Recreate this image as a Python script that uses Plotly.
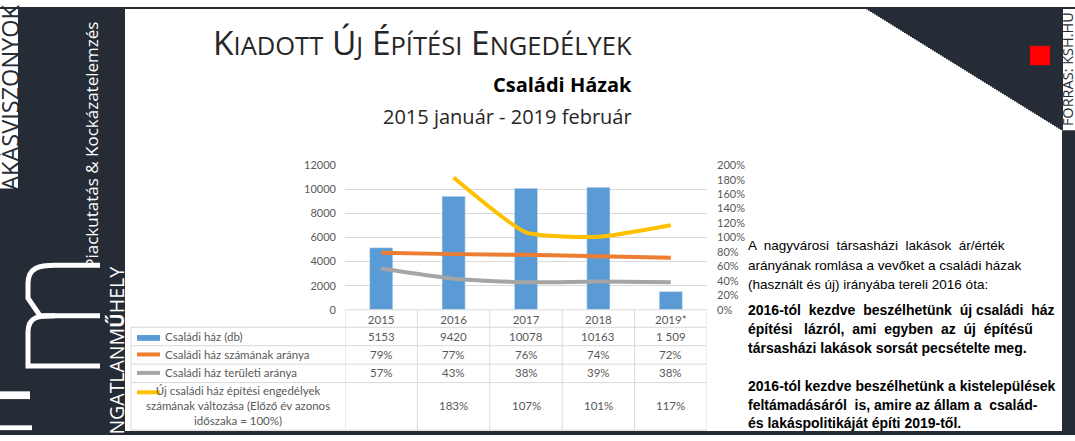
import plotly.graph_objects as go

W, H = 1075, 441
DARK = "#262c36"
GRAY_TXT = "#595959"
GRID = "#d9d9d9"

years = ["2015", "2016", "2017", "2018", "2019*"]
csaladi_haz_db = [5153, 9420, 10078, 10163, 1509]
db_labels = ["5153", "9420", "10078", "10163", "1 509"]
szamanak_aranya = [0.79, 0.77, 0.76, 0.74, 0.72]
teruleti_aranya = [0.57, 0.43, 0.38, 0.39, 0.38]
valtozas = [None, 1.83, 1.07, 1.01, 1.17]

row_names = [
    "Családi ház (db)",
    "Családi ház számának aránya",
    "Családi ház területi aránya",
    "Új családi ház építési engedélyek<br>számának változása (Előző év azonos<br>időszaka = 100%)",
]

text_normal = [
    "A  nagyvárosi  társasházi  lakások  ár/érték",
    "arányának romlása a vevőket a családi házak",
    "(használt és új) irányába tereli 2016 óta:",
]
text_bold = [
    "2016-tól  kezdve  beszélhetünk  új családi  ház",
    "építési   lázról,  ami  egyben  az  új  építésű",
    "társasházi lakások sorsát pecsételte meg.",
    "",
    "2016-tól kezdve beszélhetünk a kistelepülések",
    "feltámadásáról  is, amire az állam a  család-",
    "és lakáspolitikáját építi 2019-től.",
]


def px(x):
    return x / W


def py(y):
    return 1 - y / H


def rect(x0, y0, x1, y1, color, layer="below"):
    return dict(type="rect", xref="paper", yref="paper", x0=px(x0), x1=px(x1),
                y0=py(y1), y1=py(y0), fillcolor=color, line_width=0, layer=layer)


def hline(x0, x1, y, color=GRID, width=1):
    return dict(type="line", xref="paper", yref="paper", x0=px(x0), x1=px(x1),
                y0=py(y), y1=py(y), line=dict(color=color, width=width))


def path(pts, color, width):
    d = ""
    for cmd, coords in pts:
        d += cmd + " " + " ".join(f"{px(coords[i]):.5f},{py(coords[i + 1]):.5f}"
                                  for i in range(0, len(coords), 2)) + " "
    return dict(type="path", xref="paper", yref="paper", path=d.strip(),
                line=dict(color=color, width=width), layer="above")


fig = go.Figure()
fig.add_trace(go.Bar(x=years, y=csaladi_haz_db, marker_color="#5b9bd5", width=0.32))
fig.add_trace(go.Scatter(x=years, y=szamanak_aranya, yaxis="y2", mode="lines",
                         line=dict(color="#ed7d31", width=4, shape="spline", smoothing=0.6)))
fig.add_trace(go.Scatter(x=years, y=teruleti_aranya, yaxis="y2", mode="lines",
                         line=dict(color="#a5a5a5", width=4, shape="spline", smoothing=0.6)))
fig.add_trace(go.Scatter(x=years, y=valtozas, yaxis="y2", mode="lines",
                         line=dict(color="#ffc000", width=4, shape="spline", smoothing=0.5)))

shapes = [
    rect(0, 0, 125, 441, DARK),
    rect(0, 0, 18, 187, "white"),
    rect(0, 0, W, 2, DARK),
    rect(0, 437, W, 441, DARK),
    rect(1062, 127, W, 441, DARK),
    # logo
    rect(0, 396, 30, 404, "white"),
    rect(0, 431, 32, 436, "white"),
    path([("M", (100, 370)), ("L", (28, 370)), ("L", (28, 335)),
          ("C", (28, 318, 40, 318, 55, 318)), ("L", (100, 318))], "white", 5),
    path([("M", (55, 318)), ("L", (40, 318)), ("L", (28, 300)), ("L", (28, 285)),
          ("C", (28, 268, 40, 266, 55, 266)), ("L", (100, 266))], "white", 5),
]
# top-right corner triangle from vertical columns
for x in range(864, 1061, 2):
    shapes.append(rect(x, 0, x + 3, (x + 2 - 864) * 126 / 197, DARK, "below"))
# check mark inside the triangle
shapes.append(rect(1030, 40, 1050, 60, "red", "above"))

# table grid
for y in [330, 349, 368, 387, 436]:
    shapes.append(hline(131, 707, y))
shapes.append(hline(345, 707, 312))
shapes.append(dict(type="line", xref="paper", yref="paper", x0=px(131), x1=px(131),
                   y0=py(436), y1=py(330), line=dict(color=GRID, width=1)))
for i in range(len(years) + 1):
    shapes.append(dict(type="line", xref="x", yref="paper", x0=i - 0.5, x1=i - 0.5,
                       y0=py(436), y1=py(312), line=dict(color=GRID, width=1)))

# legend swatches
shapes.append(rect(137, 338, 160, 344, "#5b9bd5", "above"))
for y, c in [(358, "#ed7d31"), (377, "#a5a5a5"), (397, "#ffc000")]:
    shapes.append(hline(137, 160, y, c, 4))

ann = []
tf = dict(family="Lato, sans-serif", size=11.5, color=GRAY_TXT)
row_y = [340, 358, 377, 411]
for name, y in zip(row_names[:3], row_y[:3]):
    ann.append(dict(text=name, x=px(163), y=py(y), xanchor="left", yanchor="middle", font=tf))
ann.append(dict(text=row_names[3], x=px(238), y=py(411), xanchor="center", yanchor="middle",
                align="center", font=tf))
rows = [
    db_labels,
    [f"{round(v * 100)}%" for v in szamanak_aranya],
    [f"{round(v * 100)}%" for v in teruleti_aranya],
    ["" if v is None else f"{round(v * 100)}%" for v in valtozas],
]
for vals, y in zip(rows, row_y):
    for i, v in enumerate(vals):
        if v:
            ann.append(dict(text=v, x=i, xref="x", y=py(y), xanchor="center",
                            yanchor="middle", font=tf))

# titles
sc = '<span style="font-size:25.5px">{}</span>'
title = ("K" + sc.format("IADOTT") + " Ú" + sc.format("J") + " É" + sc.format("PÍTÉSI")
         + " E" + sc.format("NGEDÉLYEK"))
ann.append(dict(text=title, x=px(634), y=py(36), xanchor="right", yanchor="middle",
                font=dict(family="Open Sans", size=33.5, color="#262626")))
ann.append(dict(text="<b>Családi Házak</b>", x=px(634), y=py(80), xanchor="right",
                yanchor="middle", font=dict(family="Open Sans", size=20, color="black")))
ann.append(dict(text="2015 január - 2019 február", x=px(634), y=py(113), xanchor="right",
                yanchor="middle", font=dict(family="Open Sans", size=20, color="#262626")))

# side texts
pf = dict(family="Liberation Sans", size=13.5, color="black")
bf = dict(family="Liberation Sans", size=14, color="black")
for t, y in zip(text_normal, [246, 266, 286]):
    ann.append(dict(text=t, x=px(746), y=py(y), xanchor="left", yanchor="middle", font=pf))
for t, y in zip(text_bold, [312, 332, 351, 371, 391, 410, 429]):
    if t:
        ann.append(dict(text=f"<b>{t}</b>", x=px(746), y=py(y), xanchor="left",
                        yanchor="middle", font=bf))

# rotated labels
ann.append(dict(text="LAKÁSVISZONYOK", x=px(10), y=py(100), textangle=-90, xanchor="center",
                yanchor="middle", font=dict(family="Open Sans", size=23.5, color=DARK)))
ann.append(dict(text="Piackutatás & Kockázatelemzés", x=px(92), y=py(143), textangle=-90,
                xanchor="center", yanchor="middle",
                font=dict(family="Open Sans", size=17, color="white")))
ann.append(dict(text="NGATLANM<b>Ű</b>HELY", x=px(117), y=py(354), textangle=-90,
                xanchor="center", yanchor="middle",
                font=dict(family="Open Sans", size=19.5, color="white")))
ann.append(dict(text="FORRÁS: KSH.HU", x=px(1067), y=py(64), textangle=-90,
                xanchor="center", yanchor="middle",
                font=dict(family="Open Sans", size=14.5, color=DARK)))

for a in ann:
    a.setdefault("xref", "paper")
    a.setdefault("yref", "paper")
    a["showarrow"] = False

fig.update_layout(
    width=W, height=H, autosize=False,
    margin=dict(l=0, r=0, t=0, b=0),
    paper_bgcolor="white", plot_bgcolor="rgba(0,0,0,0)",
    showlegend=False, bargap=0.68,
    shapes=shapes, annotations=ann,
    xaxis=dict(domain=[px(345), px(707)], range=[-0.5, 4.5], showgrid=False,
               tickfont=dict(family="Lato", size=11.5, color=GRAY_TXT), ticks="",
               showline=False, zeroline=False, ticklabelstandoff=2),
    yaxis=dict(domain=[py(312), py(163)], range=[0, 12000], dtick=2000, gridcolor=GRID,
               zeroline=False, showline=False, ticks="", tickformat="d",
               tickfont=dict(family="Lato", size=11, color=GRAY_TXT), ticklabelstandoff=8),
    yaxis2=dict(overlaying="y", side="right", range=[0, 2], dtick=0.2, tickformat=".0%",
                showgrid=False, zeroline=False, showline=False, ticks="",
                tickfont=dict(family="Lato", size=11, color=GRAY_TXT), ticklabelstandoff=9),
)

fig.write_html("out.html", config={"displayModeBar": False},
               post_script="document.body.style.margin='0';")
